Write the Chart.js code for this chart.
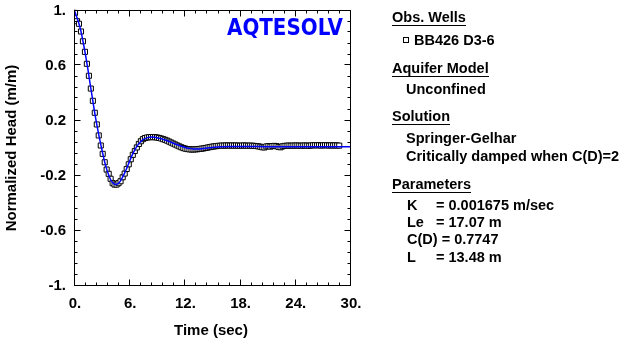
<!DOCTYPE html>
<html>
<head>
<meta charset="utf-8">
<script src="https://cdn.jsdelivr.net/npm/chart.js@4/dist/chart.umd.min.js"></script>
<style>
  body { margin: 0; background: #fff; }
  #wrap { position: relative; width: 621px; height: 341px; overflow: hidden; }
  #plot { position: absolute; left: 0; top: 0; }
  .txt { position: absolute; font: bold 14.5px "Liberation Sans", Arial, sans-serif; line-height: 16px; color: #000; white-space: nowrap; }
  .hd { border-bottom: 1px solid #000; }
  .box { display: inline-block; width: 4px; height: 4px; border: 1px solid #000; margin-right: 5px; vertical-align: 2px; }
</style>
</head>
<body>
<div id="wrap">
  <canvas id="plot" width="621" height="341"></canvas>
  <div class="txt hd" style="left:392px;top:9px">Obs. Wells</div>
  <div class="txt" style="left:403px;top:32px"><span class="box"></span>BB426 D3-6</div>
  <div class="txt hd" style="left:392px;top:60px">Aquifer Model</div>
  <div class="txt" style="left:406px;top:81px">Unconfined</div>
  <div class="txt hd" style="left:392px;top:108px">Solution</div>
  <div class="txt" style="left:406px;top:130px">Springer-Gelhar</div>
  <div class="txt" style="left:406px;top:148px">Critically damped when C(D)=2</div>
  <div class="txt hd" style="left:392px;top:176px">Parameters</div>
  <div class="txt" style="left:407px;top:197px">K</div>
  <div class="txt" style="left:436px;top:197px">= 0.001675 m/sec</div>
  <div class="txt" style="left:407px;top:214px">Le</div>
  <div class="txt" style="left:436px;top:214px">= 17.07 m</div>
  <div class="txt" style="left:407px;top:231px">C(D) = 0.7747</div>
  <div class="txt" style="left:407px;top:249px">L</div>
  <div class="txt" style="left:436px;top:249px">= 13.48 m</div>
</div>
<script>
// observed heads, well BB426 D3-6
var obsTime = [
  0.11, 0.33, 0.54, 0.76, 0.97, 1.19, 1.40, 1.62, 1.83, 2.05, 2.26, 2.48,
  2.69, 2.91, 3.12, 3.34, 3.55, 3.77, 3.98, 4.20, 4.41, 4.63, 4.84, 5.06,
  5.29, 5.51, 5.73, 5.95, 6.17, 6.39, 6.61, 6.83, 7.05, 7.27, 7.49, 7.71,
  7.93, 8.15, 8.37, 8.59, 8.81, 9.03, 9.25, 9.47, 9.69, 9.91, 10.13, 10.35,
  10.57, 10.79, 11.01, 11.23, 11.45, 11.67, 11.89, 12.11, 12.33, 12.55, 12.77, 12.99,
  13.21, 13.43, 13.65, 13.87, 14.09, 14.31, 14.53, 14.75, 14.97, 15.19, 15.41, 15.63,
  15.85, 16.07, 16.29, 16.51, 16.73, 16.95, 17.17, 17.39, 17.61, 17.83, 18.05, 18.27,
  18.49, 18.71, 18.93, 19.15, 19.37, 19.59, 19.81, 20.03, 20.25, 20.47, 20.69, 20.91,
  21.13, 21.35, 21.57, 21.79, 22.01, 22.23, 22.45, 22.67, 22.89, 23.11, 23.33, 23.55,
  23.77, 23.99, 24.21, 24.43, 24.65, 24.87, 25.09, 25.31, 25.53, 25.75, 25.97, 26.19,
  26.41, 26.63, 26.85, 27.07, 27.29, 27.51, 27.73, 27.95, 28.17, 28.39, 28.61, 28.83
];
var obsHead = [
  0.976, 0.915, 0.896, 0.840, 0.769, 0.692, 0.605, 0.518, 0.425, 0.336, 0.249, 0.164,
  0.084, 0.011, -0.050, -0.111, -0.164, -0.195, -0.231, -0.263, -0.273, -0.273, -0.263, -0.249,
  -0.220, -0.193, -0.160, -0.126, -0.089, -0.057, -0.029, -0.003, 0.022, 0.042, 0.057, 0.065,
  0.069, 0.071, 0.072, 0.072, 0.071, 0.069, 0.066, 0.062, 0.057, 0.052, 0.046, 0.039,
  0.032, 0.025, 0.018, 0.011, 0.004, -0.002, -0.008, -0.012, -0.015, -0.017, -0.018, -0.018,
  -0.017, -0.016, -0.014, -0.012, -0.010, -0.007, -0.004, -0.001, 0.002, 0.004, 0.006, 0.008,
  0.009, 0.010, 0.010, 0.011, 0.011, 0.010, 0.011, 0.010, 0.011, 0.010, 0.009, 0.010,
  0.011, 0.010, 0.009, 0.010, 0.009, 0.008, 0.007, 0.005, 0.002, -0.002, -0.003, 0.004,
  0.006, 0.003, 0.007, 0.008, 0.006, 0.001, -0.002, 0.005, 0.008, 0.009, 0.010, 0.009,
  0.010, 0.010, 0.011, 0.010, 0.009, 0.010, 0.011, 0.010, 0.009, 0.011, 0.012, 0.013,
  0.012, 0.013, 0.011, 0.012, 0.013, 0.012, 0.011, 0.012, 0.011, 0.012, 0.011, 0.010
];
// Springer-Gelhar type curve
var fitTime = [
  0, 0.25, 0.5, 0.75, 1.0, 1.25, 1.5, 1.75, 2.0, 2.25, 2.5, 2.75,
  3.0, 3.25, 3.5, 3.75, 4.0, 4.25, 4.5, 4.75, 5.0, 5.25, 5.5, 5.75,
  6.0, 6.25, 6.5, 6.75, 7.0, 7.5, 8.0, 8.5, 9.0, 9.5, 10.0, 10.5,
  11.0, 11.5, 12.0, 12.5, 13.0, 13.5, 14.0, 14.5, 15.0, 16, 17, 18,
  19, 20, 22, 24, 26, 28, 30
];
var fitHead = [
  1.0, 0.955, 0.905, 0.843, 0.76, 0.67, 0.57, 0.46, 0.355, 0.25, 0.155, 0.07,
  -0.01, -0.085, -0.15, -0.2, -0.24, -0.263, -0.272, -0.268, -0.252, -0.222, -0.19, -0.152,
  -0.11, -0.07, -0.035, -0.005, 0.02, 0.053, 0.068, 0.072, 0.068, 0.06, 0.049, 0.036,
  0.022, 0.009, -0.002, -0.01, -0.014, -0.014, -0.011, -0.007, -0.003, 0.002, 0.004, 0.004,
  0.003, 0.003, 0.002, 0.002, 0.002, 0.002, 0.002
];
var xTickValues = [0, 6, 12, 18, 24, 30];
var xTickLabels = ['0.', '6.', '12.', '18.', '24.', '30.'];
var yTickValues = [1, 0.6, 0.2, -0.2, -0.6, -1];
var yTickLabels = ['1.', '0.6', '0.2', '-0.2', '-0.6', '-1.'];

var labelFont = 'bold 15px "Liberation Sans", Arial, sans-serif';

// box, inward ticks, tick labels, axis titles and logo
var framePlugin = {
  id: 'frame',
  afterDatasetsDraw: function (chart) {
    var ctx = chart.ctx, a = chart.chartArea;
    var xs = chart.scales.x, ys = chart.scales.y;
    ctx.save();
    ctx.strokeStyle = '#000';
    ctx.lineWidth = 1;
    var l = Math.round(a.left) + 0.5, r = Math.round(a.right) + 0.5;
    var t = Math.round(a.top) + 0.5, b = Math.round(a.bottom) + 0.5;
    ctx.strokeRect(l, t, r - l, b - t);
    ctx.beginPath();
    // x ticks: minor every 1.2, major every 6
    for (var i = 0; i <= 25; i++) {
      var px = Math.round(xs.getPixelForValue(i * 1.2)) + 0.5;
      var len = (i % 5 == 0) ? 6 : 3;
      ctx.moveTo(px, b); ctx.lineTo(px, b - len);
      ctx.moveTo(px, t); ctx.lineTo(px, t + len);
    }
    // y ticks: minor every 0.08, major every 0.4
    for (var j = 0; j <= 25; j++) {
      var py = Math.round(ys.getPixelForValue(-1 + j * 0.08)) + 0.5;
      var ylen = (j % 5 == 0) ? 6 : 3;
      ctx.moveTo(l, py); ctx.lineTo(l + ylen, py);
      ctx.moveTo(r, py); ctx.lineTo(r - ylen, py);
    }
    ctx.stroke();

    ctx.fillStyle = '#000';
    ctx.font = labelFont;
    ctx.textAlign = 'center';
    ctx.textBaseline = 'middle';
    xTickValues.forEach(function (v, k) {
      ctx.fillText(xTickLabels[k], xs.getPixelForValue(v) + 1, 304);
    });
    ctx.textAlign = 'right';
    yTickValues.forEach(function (v, k) {
      ctx.fillText(yTickLabels[k], 66, ys.getPixelForValue(v) + 1);
    });

    // axis titles
    ctx.font = 'bold 15px "Liberation Sans", Arial, sans-serif';
    ctx.textAlign = 'center';
    ctx.fillText('Time (sec)', 211, 331);
    ctx.save();
    ctx.translate(12, 148);
    ctx.rotate(-Math.PI / 2);
    ctx.fillText('Normalized Head (m/m)', 0, 0);
    ctx.restore();

    // logo
    ctx.fillStyle = '#0000ff';
    ctx.font = 'bold 23px "DejaVu Sans", sans-serif';
    ctx.textAlign = 'left';
    ctx.textBaseline = 'alphabetic';
    ctx.fillText('AQTESOLV', 227, 35, 116);
    ctx.restore();
  }
};

var obsPoints = obsTime.map(function (tt, i) { return { x: tt, y: obsHead[i] }; });
var fitPoints = fitTime.map(function (tt, i) { return { x: tt, y: fitHead[i] }; });

var ctx = document.getElementById('plot').getContext('2d');
new Chart(ctx, {
  type: 'scatter',
  data: {
    datasets: [{
      label: 'Springer-Gelhar',
      data: fitPoints,
      showLine: true,
      borderColor: '#0000ff',
      borderWidth: 1.5,
      pointRadius: 0,
      tension: 0.4,
      order: 0
    }, {
      label: 'BB426 D3-6',
      data: obsPoints,
      pointStyle: 'rect',
      pointRadius: 3.6,
      borderColor: '#000',
      backgroundColor: '#fff',
      borderWidth: 1,
      order: 1
    }]
  },
  options: {
    responsive: false,
    animation: false,
    devicePixelRatio: 1,
    layout: { padding: { left: 74, top: 9.5, right: 271, bottom: 56.5 } },
    plugins: { legend: { display: false }, tooltip: { enabled: false } },
    scales: {
      x: { type: 'linear', min: 0, max: 30, display: false },
      y: { type: 'linear', min: -1, max: 1, display: false }
    }
  },
  plugins: [framePlugin]
});
</script>
</body>
</html>
